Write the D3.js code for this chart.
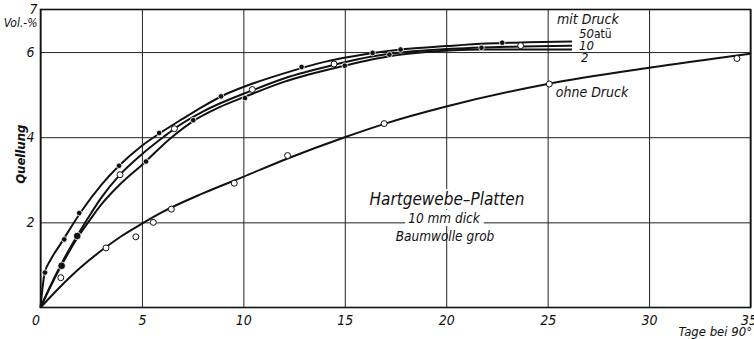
<!DOCTYPE html>
<html>
<head>
<meta charset="utf-8">
<script src="https://cdn.jsdelivr.net/npm/d3@7"></script>
<style>
  html, body { margin: 0; padding: 0; background: #fff; }
  svg { display: block; }
  text { font-family: "DejaVu Sans Condensed", "Liberation Sans Narrow", sans-serif; font-style: italic; fill: #111; }
</style>
</head>
<body>
<svg id="chart" width="754" height="339"></svg>
<script>
// Axis ticks
const xTicks = [0, 5, 10, 15, 20, 25, 30, 35];
const yTicks = [2, 4, 6];

// Swelling curves (days at 90°, vol.-%)
const curve50 = [[0,0],[0.2,0.8],[0.5,1.12],[1,1.5],[2,2.25],[3,2.88],[3.87,3.33],[5,3.8],[6,4.13],[7,4.43],[8,4.72],[9,4.98],[10,5.18],[12,5.5],[14,5.77],[16,5.95],[18,6.07],[20,6.14],[22,6.2],[24,6.23],[26.2,6.25]];
const curve10 = [[0,0],[0.5,0.52],[1,1.0],[1.8,1.68],[2.5,2.22],[3,2.58],[3.92,3.12],[5,3.6],[6.05,4.0],[6.6,4.2],[8,4.6],[10.44,5.1],[12,5.38],[14.47,5.7],[16.4,5.9],[18,6.0],[20,6.07],[23.67,6.13],[26.2,6.15]];
const curve2  = [[0,0],[0.5,0.5],[1,0.96],[1.8,1.62],[2.5,2.1],[3,2.42],[4,2.93],[5,3.35],[6.47,4.0],[7.53,4.38],[8.8,4.7],[10.08,4.95],[12,5.3],[15,5.68],[17.2,5.9],[19,6.0],[21.7,6.06],[26.2,6.06]];
const curveOhne = [[0,0],[1,0.5],[2,0.95],[3.23,1.42],[4,1.68],[5,1.97],[6,2.24],[8,2.68],[10,3.07],[12.18,3.5],[15,4.0],[17,4.32],[20,4.72],[25,5.25],[30,5.63],[35,5.96]];

// Measured points
const pts50 = [[0.22,0.82],[1.17,1.6],[1.91,2.22],[3.87,3.33],[5.85,4.1],[8.9,4.96],[12.87,5.65],[17.75,6.06],[22.76,6.22]];
const pts10 = [[3.92,3.12],[6.6,4.2],[10.44,5.12],[14.47,5.72],[23.67,6.15]];
const pts2 = [[5.2,3.43],[7.53,4.4],[10.08,4.92],[15.0,5.68],[16.37,5.98],[17.2,5.94],[21.74,6.1]];
const ptsJoint = [[1.04,0.98],[1.81,1.68]];
const ptsOhne = [[1.0,0.7],[3.23,1.4],[4.7,1.66],[5.56,2.0],[6.45,2.31],[9.55,2.92],[12.18,3.57],[16.94,4.32],[25.08,5.25],[34.33,5.85]];

const svg = d3.select("#chart");
const x = d3.scaleLinear().domain([0, 35]).range([40.5, 750.5]);
const y = d3.scaleLinear().domain([0, 7]).range([307.5, 9.5]);

// Grid
const gx = svg.append("g").attr("transform", `translate(0,${y(0)})`)
  .call(d3.axisBottom(x).tickValues(xTicks).tickSize(-(y(0) - y(7))).tickPadding(8).tickFormat(d3.format("d")));
gx.select(".domain").remove();
gx.selectAll(".tick line").attr("stroke", "#222").attr("stroke-width", 1);
gx.selectAll(".tick text").attr("font-size", 14).attr("fill", "#111").attr("font-family", null);
gx.selectAll(".tick").filter(d => d === 0).select("text").attr("dx", -5);
gx.selectAll(".tick").filter(d => d === 35).select("text").attr("dx", -2);

const gy = svg.append("g").attr("transform", `translate(${x(0)},0)`)
  .call(d3.axisLeft(y).tickValues(yTicks).tickSize(-(x(35) - x(0))).tickPadding(6).tickFormat(d3.format("d")));
gy.select(".domain").remove();
gy.selectAll(".tick line").attr("stroke", "#222").attr("stroke-width", 1);
gy.selectAll(".tick text").attr("font-size", 14).attr("fill", "#111").attr("font-family", null);

// Frame
svg.append("rect").attr("x", x(0)).attr("y", y(7)).attr("width", x(35) - x(0)).attr("height", y(0) - y(7))
  .attr("fill", "none").attr("stroke", "#111").attr("stroke-width", 1.6);

// Top value and unit
svg.append("text").attr("x", x(0) - 3).attr("y", y(7) + 4).attr("text-anchor", "end").attr("font-size", 14).text("7");
svg.append("text").attr("x", x(0) - 3).attr("y", y(7) + 17).attr("text-anchor", "end").attr("font-size", 12).text("Vol.-%");

// Axis titles
svg.append("text").attr("transform", `translate(25,${y(3.6)}) rotate(-90)`).attr("text-anchor", "middle")
  .attr("font-size", 13).attr("font-weight", "bold").text("Quellung");
svg.append("text").attr("x", 752).attr("y", 336).attr("text-anchor", "end").attr("font-size", 13).text("Tage bei 90°");

// Caption block with white backing
const cap = svg.append("g");
const capX = 447;
const t1 = cap.append("text").attr("x", capX).attr("y", 205).attr("text-anchor", "middle").attr("font-size", 17).text("Hartgewebe–Platten");
const t2 = cap.append("text").attr("x", capX - 3).attr("y", 223).attr("text-anchor", "middle").attr("font-size", 13.5).text("10 mm dick");
const t3 = cap.append("text").attr("x", capX - 2).attr("y", 241).attr("text-anchor", "middle").attr("font-size", 13.5).text("Baumwolle grob");
[t1, t2].forEach(t => {
  const b = t.node().getBBox();
  cap.insert("rect", "text").attr("x", b.x - 3).attr("y", b.y).attr("width", b.width + 6).attr("height", b.height).attr("fill", "#fff");
});

// Curves
const line = d3.line().x(d => x(d[0])).y(d => y(d[1])).curve(d3.curveMonotoneX);
[curve50, curve10, curve2, curveOhne].forEach(c => {
  svg.append("path").datum(c).attr("d", line).attr("fill", "none").attr("stroke", "#111").attr("stroke-width", 2);
});

// Markers
function dots(data, r, hollow) {
  svg.append("g").selectAll("circle").data(data).join("circle")
    .attr("cx", d => x(d[0])).attr("cy", d => y(d[1])).attr("r", r)
    .attr("fill", hollow ? "#fff" : "#111").attr("stroke", hollow ? "#111" : "#fff")
    .attr("stroke-width", hollow ? 1 : 0.8);
}
dots(pts50, 2.8, false);
dots(pts2, 2.8, false);
dots(ptsJoint, 3.8, false);
dots(pts10, 3, true);
dots(ptsOhne, 3, true);

// Curve labels
const lx = x(26.2);
svg.append("text").attr("x", lx - 15).attr("y", 24).attr("font-size", 14).text("mit Druck");
const l50 = svg.append("text").attr("x", lx + 7).attr("y", 38).attr("font-size", 13);
l50.append("tspan").text("50");
l50.append("tspan").attr("font-style", "normal").attr("font-size", 12).text("atü");
svg.append("text").attr("x", lx + 7).attr("y", 50).attr("font-size", 13).text("10");
svg.append("text").attr("x", lx + 9).attr("y", 62).attr("font-size", 13).text("2");
svg.append("text").attr("x", x(25.4)).attr("y", y(4.95)).attr("font-size", 14).text("ohne Druck");
</script>
</body>
</html>
